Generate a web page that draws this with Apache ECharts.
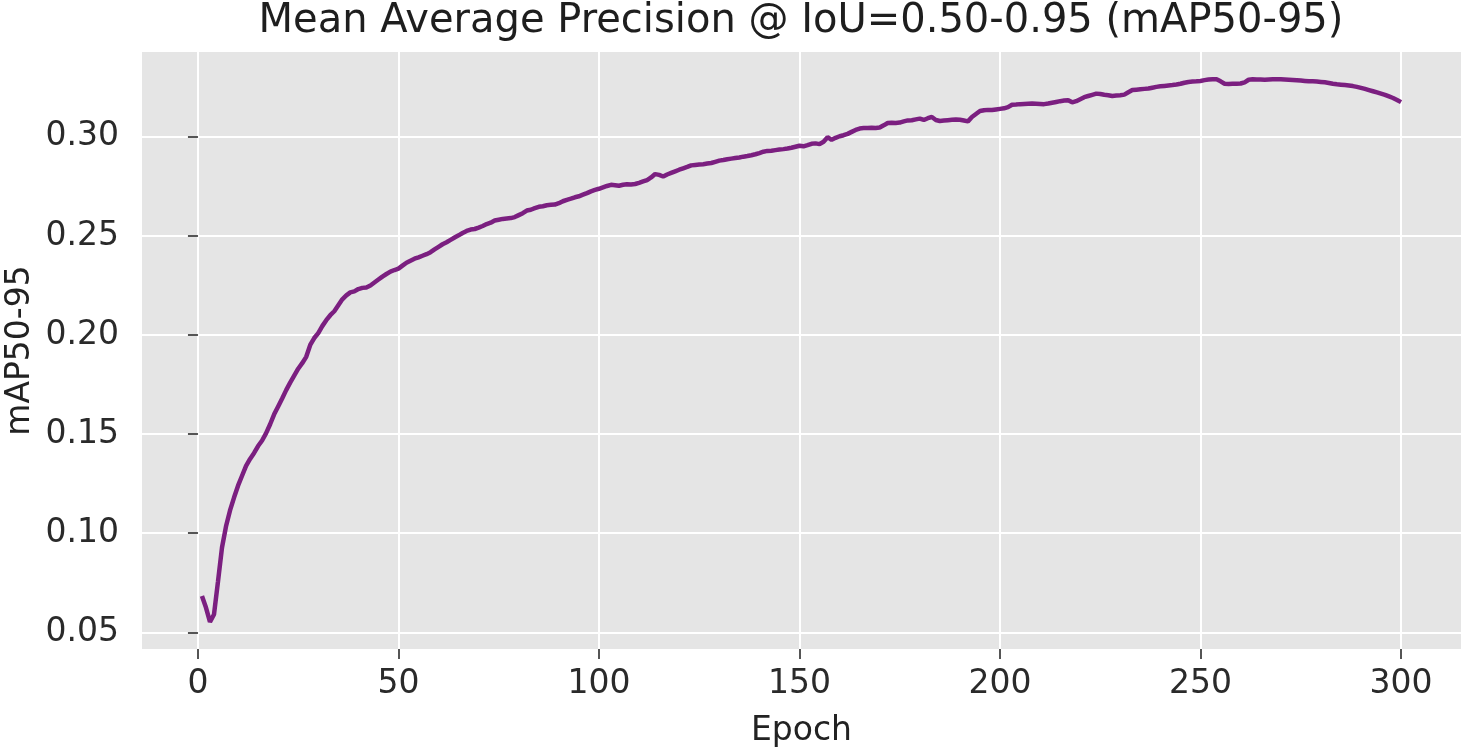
<!DOCTYPE html>
<html>
<head>
<meta charset="utf-8">
<script src="https://cdn.jsdelivr.net/npm/echarts@6/dist/echarts.min.js"></script>
<style>
html,body{margin:0;padding:0;background:#fff;}
#chart{width:1468px;height:755px;}
</style>
</head>
<body>
<div id="chart"></div>
<script>
const titleText = 'Mean Average Precision @ IoU=0.50-0.95 (mAP50-95)';
const xName = 'Epoch';
const yName = 'mAP50-95';
const firstEpoch = 1;
const xTicks = [0, 50, 100, 150, 200, 250, 300];
const yTicks = [0.05, 0.10, 0.15, 0.20, 0.25, 0.30];
const map5095 = [
0.0683,0.0625,0.0553,0.0590,0.0757,0.0928,0.1035,0.1115,0.1180,0.1240,
0.1290,0.1340,0.1375,0.1405,0.1440,0.1468,0.1505,0.1550,0.1600,0.1640,
0.1680,0.1722,0.1760,0.1795,0.1830,0.1858,0.1890,0.1950,0.1985,0.2010,
0.2045,0.2075,0.2100,0.2120,0.2150,0.2180,0.2200,0.2215,0.2220,0.2232,
0.2238,0.2240,0.2250,0.2265,0.2280,0.2295,0.2308,0.2320,0.2328,0.2335,
0.2350,0.2365,0.2375,0.2385,0.2392,0.2400,0.2408,0.2418,0.2432,0.2445,
0.2458,0.2468,0.2480,0.2492,0.2503,0.2515,0.2525,0.2532,0.2535,0.2542,
0.2550,0.2560,0.2567,0.2578,0.2582,0.2586,0.2588,0.2590,0.2595,0.2605,
0.2615,0.2628,0.2632,0.2640,0.2647,0.2650,0.2655,0.2657,0.2658,0.2665,
0.2675,0.2682,0.2688,0.2695,0.2700,0.2708,0.2716,0.2725,0.2732,0.2738,
0.2745,0.2752,0.2758,0.2756,0.2753,0.2758,0.2761,0.2760,0.2762,0.2768,
0.2775,0.2782,0.2795,0.2812,0.2808,0.2800,0.2810,0.2818,0.2826,0.2834,
0.2841,0.2848,0.2856,0.2858,0.2860,0.2862,0.2865,0.2868,0.2874,0.2880,
0.2883,0.2887,0.2890,0.2893,0.2896,0.2900,0.2903,0.2907,0.2912,0.2918,
0.2925,0.2929,0.2930,0.2933,0.2936,0.2938,0.2941,0.2945,0.2950,0.2955,
0.2952,0.2958,0.2965,0.2967,0.2963,0.2975,0.2998,0.2985,0.2995,0.3003,
0.3008,0.3015,0.3025,0.3035,0.3042,0.3044,0.3045,0.3046,0.3045,0.3047,
0.3058,0.3070,0.3071,0.3070,0.3072,0.3078,0.3083,0.3084,0.3088,0.3092,
0.3085,0.3094,0.3100,0.3085,0.3080,0.3082,0.3084,0.3086,0.3088,0.3086,
0.3082,0.3078,0.3100,0.3115,0.3130,0.3134,0.3136,0.3135,0.3138,0.3141,
0.3144,0.3150,0.3162,0.3163,0.3165,0.3166,0.3167,0.3168,0.3167,0.3166,
0.3165,0.3168,0.3172,0.3176,0.3180,0.3183,0.3185,0.3174,0.3180,0.3190,
0.3200,0.3206,0.3212,0.3218,0.3216,0.3212,0.3210,0.3206,0.3208,0.3210,
0.3213,0.3225,0.3236,0.3238,0.3240,0.3242,0.3244,0.3248,0.3252,0.3255,
0.3257,0.3259,0.3261,0.3264,0.3268,0.3273,0.3277,0.3279,0.3280,0.3282,
0.3286,0.3289,0.3290,0.3290,0.3280,0.3268,0.3267,0.3268,0.3268,0.3269,
0.3275,0.3288,0.3290,0.3289,0.3289,0.3288,0.3289,0.3290,0.3291,0.3290,
0.3289,0.3288,0.3287,0.3286,0.3284,0.3282,0.3280,0.3280,0.3279,0.3277,
0.3275,0.3272,0.3268,0.3265,0.3263,0.3261,0.3259,0.3256,0.3252,0.3247,
0.3242,0.3236,0.3230,0.3224,0.3218,0.3212,0.3204,0.3196,0.3186,0.3175
];

const seriesData = map5095.map((v, i) => [firstEpoch + i, v]);
const FONT = 'DejaVu Sans';
const chart = echarts.init(document.getElementById('chart'), null, {renderer: 'canvas'});
chart.setOption({
  animation: false,
  backgroundColor: '#ffffff',
  title: {
    text: titleText,
    left: 801,
    top: 2,
    padding: 0,
    textAlign: 'center',
    textStyle: {fontFamily: FONT, fontSize: 40, fontWeight: 'normal', color: '#1e1e1e'}
  },
  grid: {
    left: 142, right: 7, top: 52, bottom: 106,
    show: true, backgroundColor: '#e5e5e5', borderWidth: 0,
    containLabel: false, outerBoundsMode: 'none'
  },
  xAxis: {
    type: 'value',
    min: -13.95, max: 314.95,
    name: xName,
    nameLocation: 'middle',
    nameGap: 66,
    nameMoveOverlap: false,
    nameTextStyle: {fontFamily: FONT, fontSize: 33, color: '#222222'},
    axisLine: {show: false},
    axisTick: {show: true, customValues: xTicks, length: 10, lineStyle: {color: '#555555', width: 2}},
    axisLabel: {customValues: xTicks, margin: 19, fontFamily: FONT, fontSize: 33, color: '#2a2a2a'},
    splitLine: {show: true, lineStyle: {color: '#ffffff', width: 2}}
  },
  yAxis: {
    type: 'value',
    min: 0.0416, max: 0.3428,
    name: yName,
    nameLocation: 'middle',
    nameRotate: 90,
    nameGap: 105,
    nameMoveOverlap: false,
    nameTextStyle: {fontFamily: FONT, fontSize: 33, color: '#222222'},
    axisLine: {show: false},
    axisTick: {show: true, customValues: yTicks, length: 10, lineStyle: {color: '#555555', width: 2}},
    axisLabel: {customValues: yTicks, margin: 23, fontFamily: FONT, fontSize: 33, color: '#2a2a2a',
      formatter: v => v.toFixed(2)},
    splitLine: {show: true, lineStyle: {color: '#ffffff', width: 2}}
  },
  series: [{
    type: 'line',
    data: seriesData,
    showSymbol: false,
    symbol: 'none',
    lineStyle: {color: '#7b1f80', width: 4.5},
    smooth: false
  }]
});
</script>
</body>
</html>
